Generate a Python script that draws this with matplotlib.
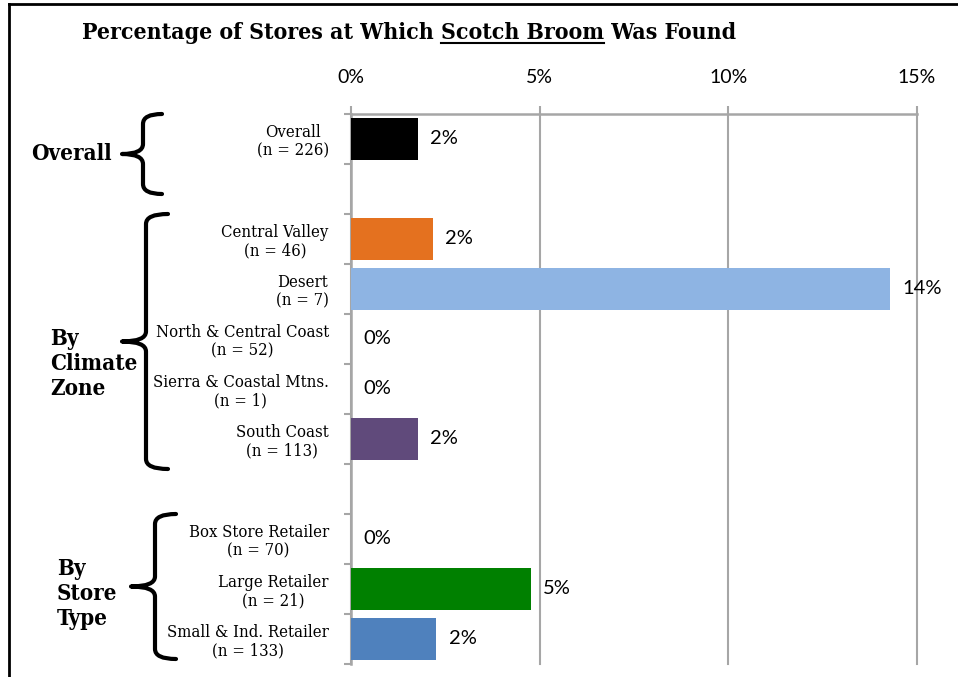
import numpy as np
import matplotlib
matplotlib.use("Agg")
import matplotlib.pyplot as plt
from matplotlib.path import Path
from matplotlib.patches import PathPatch
from matplotlib.lines import Line2D
import matplotlib.transforms as mtransforms

# Share of stores where the plant was found, in percent
categories = ["Overall", "Central Valley", "Desert", "North & Central Coast",
              "Sierra & Coastal Mtns.", "South Coast", "Box Store Retailer",
              "Large Retailer", "Small & Ind. Retailer"]
sample_sizes = [226, 46, 7, 52, 1, 113, 70, 21, 133]
percent_found = [1.77, 2.17, 14.29, 0.0, 0.0, 1.77, 0.0, 4.76, 2.26]
bar_colors = ["#000000", "#E4711F", "#8EB4E3", "#FFFFFF", "#FFFFFF",
              "#604A7B", "#FFFFFF", "#008000", "#4F81BD"]
# groups: name, number of categories
groups = [("Overall", 1), ("By\nClimate\nZone", 5), ("By\nStore\nType", 3)]
x_ticks = [0, 5, 10, 15]

# rows with an empty row between groups
rows = []
r = 0
for _, n in groups:
    rows.extend(range(r, r + n))
    r += n + 1
n_rows = r - 1

W, H = 958, 677
fig = plt.figure(figsize=(W / 100, H / 100), dpi=100)
ax = fig.add_axes([351 / W, 1 - 664 / H, 566 / W, 550 / H])

ax.barh(rows, percent_found, height=0.83, color=bar_colors, zorder=3)
ax.set_xlim(0, 15)
ax.set_ylim(n_rows - 0.5, -0.5)

grid_gray = "#A6A6A6"
ax.xaxis.tick_top()
ax.set_xticks(x_ticks)
ax.set_xticklabels([f"{t}%" for t in x_ticks], fontfamily="Lato", fontsize=14)
ax.tick_params(axis="x", length=6, width=1.5, color=grid_gray, pad=14)
ax.grid(axis="x", color=grid_gray, lw=1.5, zorder=0)
for gl in ax.get_xgridlines():
    gl.set_clip_on(False)

ax.set_yticks(np.arange(-0.5, n_rows, 1))
ax.set_yticklabels([])
ax.set_yticks(rows, minor=True)
ax.set_yticklabels([f"{c}\n(n = {n})" for c, n in zip(categories, sample_sizes)],
                   minor=True, fontfamily="DejaVu Serif", fontsize=12,
                   fontstretch="condensed")
for lbl in ax.get_yticklabels(minor=True):
    lbl.set_multialignment("center")
    lbl.set_linespacing(1.1)
ax.tick_params(axis="y", which="major", length=5, width=1.5, color=grid_gray)
ax.tick_params(axis="y", which="minor", length=0, pad=16)

for s in ["right", "bottom"]:
    ax.spines[s].set_visible(False)
for s in ["left", "top"]:
    ax.spines[s].set_color(grid_gray)
    ax.spines[s].set_linewidth(1.8)

# value labels next to bars
for row, v in zip(rows, percent_found):
    ax.annotate(f"{v:.0f}%", (v, row), xytext=(9, 0), textcoords="offset points",
                va="center", ha="left", fontfamily="Lato", fontsize=14.5, zorder=4)

# curly braces and group names on the left
mixed = mtransforms.blended_transform_factory(fig.transFigure, ax.transData)


def brace(y0, y1, x_line, x_hook, x_tip, r=0.2):
    ym = (y0 + y1) / 2
    verts = [(x_hook, y0), (x_line, y0), (x_line, y0 + r),
             (x_line, ym - r), (x_line, ym), (x_tip, ym),
             (x_line, ym), (x_line, ym + r),
             (x_line, y1 - r), (x_line, y1), (x_hook, y1)]
    codes = [Path.MOVETO, Path.CURVE3, Path.CURVE3,
             Path.LINETO, Path.CURVE3, Path.CURVE3,
             Path.CURVE3, Path.CURVE3,
             Path.LINETO, Path.CURVE3, Path.CURVE3]
    patch = PathPatch(Path(verts, codes), transform=mixed, fill=False,
                      lw=3, color="black", capstyle="round", joinstyle="round",
                      clip_on=False)
    fig.add_artist(patch)
    return ym


brace_specs = [(-0.5, 1.1, 143, 162, 122), (1.5, 6.6, 146, 168, 122),
               (7.5, 10.4, 155, 176, 131)]
group_text = [(112, "right", 0.3), (50, "left", 4.5), (57, "left", 9.1)]
for (name, _), (y0, y1, xl, xh, xt), (tx, ha, ty) in zip(groups, brace_specs, group_text):
    brace(y0, y1, xl / W, xh / W, xt / W)
    fig.text(tx / W, ty, name, transform=mixed, ha=ha, va="center",
             fontfamily="DejaVu Serif", fontweight="bold", fontsize=16,
             fontstretch="condensed", linespacing=1.2)

# title with underlined plant name
title_parts = ["Percentage of Stores at Which ", "Scotch Broom", " Was Found"]
title_font = dict(fontfamily="DejaVu Serif", fontweight="bold", fontsize=16.5,
                  fontstretch="condensed")
renderer = fig.canvas.get_renderer()
x = 82
base_y = H - 39
pieces = []
for part in title_parts:
    t = fig.text(x / W, base_y / H, part, va="baseline", ha="left", **title_font)
    pieces.append(t)
    x += t.get_window_extent(renderer).width
bb = pieces[1].get_window_extent(renderer)
fig.add_artist(Line2D([bb.x0 / W, bb.x1 / W], [(base_y - 4) / H] * 2,
                      transform=fig.transFigure, color="black", lw=1.5))

# outer frame: top and left edges
fig.add_artist(Line2D([9 / W, 1], [1 - 4 / H] * 2, transform=fig.transFigure,
                      color="black", lw=2))
fig.add_artist(Line2D([9 / W, 9 / W], [0, 1 - 4 / H], transform=fig.transFigure,
                      color="black", lw=2))

fig.savefig("out.png", dpi=100, facecolor="white")
